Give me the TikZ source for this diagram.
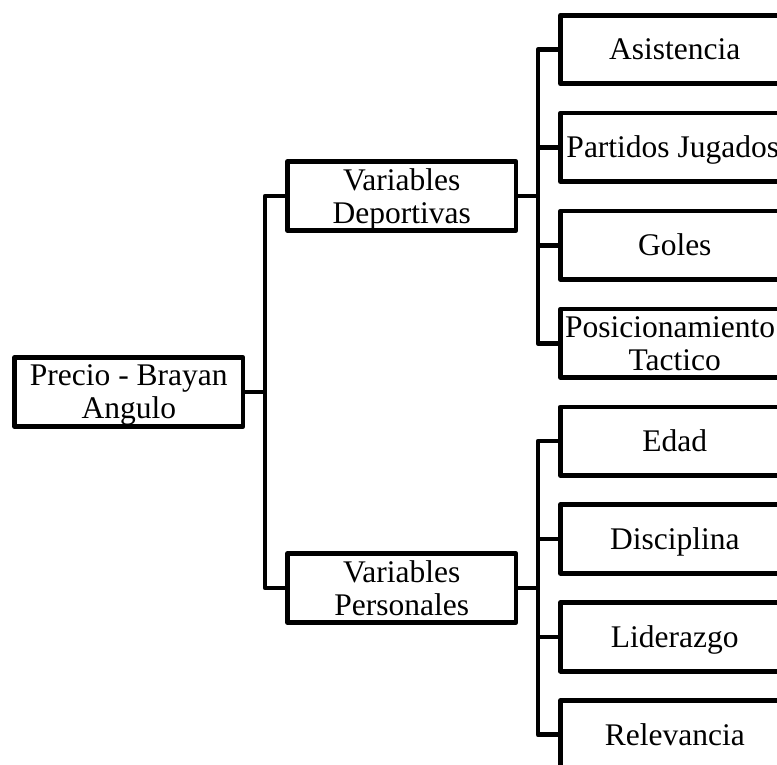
\documentclass[tikz,border=0pt]{standalone}
\usepackage{fontspec}
\setmainfont{Liberation Serif}
\newcommand\twol[2]{\vbox{\baselineskip=33pt\lineskiplimit=-100pt\halign{\hfil##\hfil\cr\vrule height 20.8pt width 0pt\relax #1\cr #2\cr}}}
\tikzset{
  box/.style={draw=black, line width=4.7pt, line join=round, inner sep=0pt,
    minimum width=228.5pt, minimum height=69pt, text height=20.8pt, text depth=0pt,
    font=\fontsize{31.5}{33}\selectfont},
  multi/.style={text height=, text depth=0pt},
  leaf/.style={box, minimum height=68.5pt},
  link/.style={draw=black, line width=4.7pt, line join=round}
}
\begin{document}
\begin{tikzpicture}[x=1pt,y=-1pt]
\path[use as bounding box] (0,0) rectangle (777,765);
\clip (0,0) rectangle (777,765);
% nodes
\node[box,multi] (root) at (128.8,392) {\twol{Precio - Brayan}{Angulo}};
\node[box,multi] (vd) at (401.8,196) {\twol{Variables}{Deportivas}};
\node[box,multi] (vp) at (401.8,588) {\twol{Variables}{Personales}};
\node[leaf] (l1) at (674.75,49.5) {Asistencia};
\node[leaf] (l2) at (674.75,147.4) {\kern-3.9pt Partidos Jugados};
\node[leaf] (l3) at (674.75,245.3) {Goles};
\node[leaf,multi] (l4) at (674.75,343.2) {\twol{\kern-9.5pt Posicionamiento}{Tactico}};
\node[leaf] (l5) at (674.75,441.1) {Edad};
\node[leaf] (l6) at (674.75,539.0) {Disciplina};
\node[leaf] (l7) at (674.75,636.9) {Liderazgo};
\node[leaf] (l8) at (674.75,734.8) {Relevancia};
% junctions
\coordinate (j0) at (265,392);
\coordinate (j1) at (538,196);
\coordinate (j2) at (538,588);
% connectors
\draw[link] (root.east) -- (j0);
\draw[link] (vd.west) -| (j0) |- (vp.west);
\draw[link] (vd.east) -- (j1);
\draw[link] (l1.west) -| (j1) |- (l4.west);
\draw[link] (l2.west) -- (l2.west -| j1);
\draw[link] (l3.west) -- (l3.west -| j1);
\draw[link] (vp.east) -- (j2);
\draw[link] (l5.west) -| (j2) |- (l8.west);
\draw[link] (l6.west) -- (l6.west -| j2);
\draw[link] (l7.west) -- (l7.west -| j2);
\end{tikzpicture}
\end{document}
